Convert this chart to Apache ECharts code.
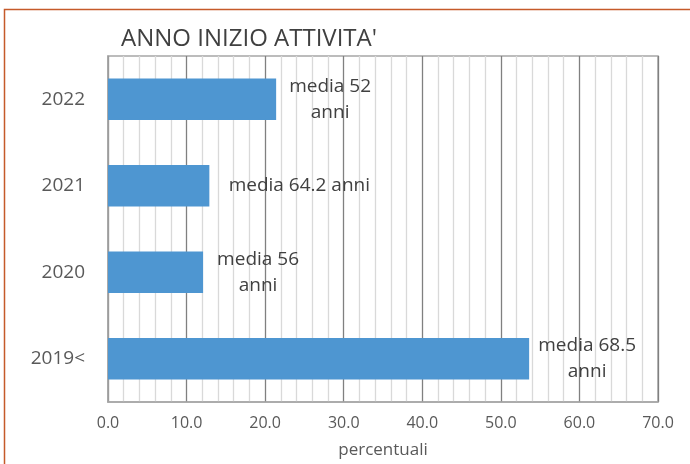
<!DOCTYPE html>
<html>
<head>
<meta charset="utf-8">
<script src="https://cdn.jsdelivr.net/npm/echarts@6/dist/echarts.min.js"></script>
<style>
html,body{margin:0;padding:0;background:#fff;}
#c{width:690px;height:464px;}
</style>
</head>
<body>
<div id="c"></div>
<script>
var titleText = "ANNO INIZIO ATTIVITA'";
var categories = ["2019<", "2020", "2021", "2022"];
var values = [53.6, 12.1, 12.9, 21.4];
var labelLines = [["media 68.5", "anni"], ["media 56", "anni"], ["media 64.2 anni"], ["media 52", "anni"]];
var labelDistances = [8, 5, 15, 4];
var xTicks = [0, 10, 20, 30, 40, 50, 60, 70];
var xName = "percentuali";

var chart = echarts.init(document.getElementById('c'), null, {renderer: 'canvas'});
var FONT = "'Open Sans', 'Liberation Sans', sans-serif";

var data = values.map(function (v, i) {
  var lines = labelLines[i];
  var lw = lines.length > 1 ? 100 : 150;
  return {
    value: v,
    label: {
      distance: labelDistances[i],
      formatter: lines.map(function (l) { return '{t|' + l + '}'; }).join('\n'),
      rich: { t: { width: lw, align: 'center', fontSize: 19, fontFamily: FONT, color: '#404040', lineHeight: 26 } }
    }
  };
});

chart.setOption({
  animation: false,
  backgroundColor: '#fff',
  title: {
    text: titleText,
    left: 116, top: 22,
    textStyle: { fontSize: 24, fontWeight: 'normal', color: '#404040', fontFamily: FONT }
  },
  graphic: [{
    type: 'polyline',
    shape: { points: [[4.5, 470], [4.5, 9.5], [700, 9.5]] },
    style: { stroke: '#c55a2a', lineWidth: 1.5, fill: null },
    silent: true
  }],
  grid: { left: 108, right: 32, top: 56, bottom: 61, show: true, borderColor: '#a6a6a6', borderWidth: 1.5, containLabel: false },
  xAxis: {
    type: 'value', min: xTicks[0], max: xTicks[xTicks.length - 1], interval: 10,
    name: xName, nameLocation: 'middle', nameGap: 40,
    nameTextStyle: { fontSize: 17, color: '#595959', fontFamily: FONT },
    axisLine: { show: true, lineStyle: { color: '#a6a6a6', width: 1.5 } },
    axisTick: { show: false },
    axisLabel: { formatter: function (v) { return v.toFixed(1); }, fontSize: 16, color: '#595959', fontFamily: FONT, margin: 13 },
    splitLine: { show: true, lineStyle: { color: '#808080', width: 1.3 } },
    minorTick: { show: false, splitNumber: 5 },
    minorSplitLine: { show: true, lineStyle: { color: '#d9d9d9', width: 1.3 } }
  },
  yAxis: {
    type: 'category', data: categories,
    axisLine: { show: true, lineStyle: { color: '#a6a6a6', width: 1.5 } },
    axisTick: { show: false },
    axisLabel: { fontSize: 19, color: '#595959', fontFamily: FONT, margin: 23 }
  },
  series: [{
    type: 'bar',
    data: data,
    barWidth: '48%',
    itemStyle: { color: '#4e96d1' },
    label: { show: true, position: 'right' }
  }]
});
</script>
</body>
</html>
